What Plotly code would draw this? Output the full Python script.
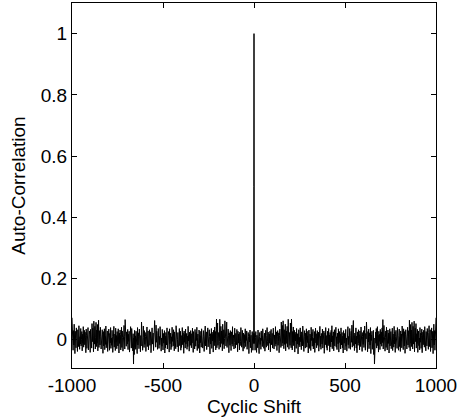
import plotly.graph_objects as go

# Positive lags (the cyclic auto-correlation is symmetric: R(-k) = R(k))
pos_lags = [0, 1] + list(range(2, 1001, 2))

peak_values = [1.0, 0.5]

noise_values = [
    -0.012, 0.021, -0.034, 0.008, 0.027, -0.019, -0.041, 0.015, 0.003, -0.026, 0.032, -0.007, 0.018, -0.045, 0.011, 0.024, -0.015, 0.006, -0.031, 0.029, -0.002, 0.013, -0.022, 0.036, -0.010,
    0.017, -0.028, 0.004, 0.022, -0.037, 0.009, 0.031, -0.013, -0.024, 0.014, 0.040, -0.006, -0.019, 0.025, -0.033, 0.002, 0.019, -0.011, 0.028, -0.039, 0.007, 0.034, -0.016, -0.004, 0.021,
    -0.027, 0.012, 0.038, -0.009, -0.030, 0.016, 0.005, -0.021, 0.043, -0.014, 0.001, 0.026, -0.035, 0.010, 0.030, -0.018, -0.006, 0.023, -0.042, 0.015, 0.035, -0.008, 0.019, -0.025, 0.058,
    0.012, -0.020, 0.047, -0.011, 0.062, 0.004, -0.029, 0.033, -0.015, 0.021, 0.051, -0.036, 0.008, 0.029, -0.012, 0.044, -0.024, 0.016, 0.067, -0.005, -0.031, 0.024, 0.009, -0.018, 0.055,
    0.003, -0.026, 0.068, 0.014, -0.033, 0.027, -0.008, 0.042, -0.019, 0.006, 0.031, -0.040, 0.018, -0.003, 0.025, -0.028, 0.037, 0.002, -0.014, 0.020, -0.046, 0.011, 0.033, -0.017, 0.008,
    -0.023, 0.039, -0.006, 0.015, -0.032, 0.026, 0.004, -0.020, 0.045, -0.011, 0.019, -0.038, 0.010, 0.030, -0.015, -0.027, 0.022, 0.001, 0.036, -0.024, 0.013, -0.009, 0.028, -0.043, 0.017,
    0.032, -0.013, -0.028, 0.019, 0.007, -0.035, 0.041, -0.002, 0.024, -0.021, 0.011, 0.034, -0.030, 0.005, -0.017, 0.027, -0.041, 0.014, 0.038, -0.010, 0.020, -0.026, 0.003, 0.030, -0.018,
    0.009, 0.025, -0.037, 0.016, -0.004, 0.044, -0.022, 0.012, -0.031, 0.021, 0.006, -0.014, 0.035, -0.027, 0.018, -0.008, 0.029, -0.044, 0.010, 0.023, -0.016, 0.040, -0.003, -0.025, 0.014,
    -0.034, 0.028, 0.008, -0.019, 0.037, -0.012, 0.016, -0.039, 0.024, 0.002, -0.023, 0.031, -0.007, 0.046, -0.029, 0.013, -0.015, 0.026, -0.036, 0.007, 0.033, -0.020, 0.018, -0.005, 0.041,
    -0.024, 0.010, -0.032, 0.022, 0.004, -0.013, 0.036, -0.040, 0.015, 0.027, -0.009, 0.019, -0.030, 0.039, -0.017, 0.003, 0.024, -0.026, 0.012, -0.043, 0.030, 0.008, -0.011, 0.021, -0.033,
    0.017, 0.034, -0.021, 0.006, -0.037, 0.025, -0.003, 0.043, -0.016, 0.011, -0.028, 0.020, 0.037, -0.012, -0.031, 0.015, 0.028, -0.008, 0.048, -0.024, 0.009, 0.031, 0.063, -0.019, 0.014,
    -0.035, 0.022, 0.005, -0.014, 0.039, -0.027, 0.012, -0.042, 0.026, 0.001, -0.018, 0.033, -0.010, 0.017, -0.033, 0.029, 0.007, -0.022, 0.042, -0.006, 0.019, -0.038, 0.011, 0.024, -0.015,
    0.030, -0.025, 0.008, 0.045, -0.012, -0.034, 0.021, 0.003, 0.058, -0.020, 0.014, -0.039, 0.027, -0.007, 0.035, -0.029, 0.010, 0.023, -0.017, 0.040, -0.045, 0.016, -0.002, 0.028, -0.031,
    0.013, -0.024, 0.031, -0.048, 0.006, -0.079, 0.020, -0.036, 0.025, -0.011, 0.037, -0.027, 0.009, 0.043, -0.019, 0.015, -0.040, 0.028, -0.005, 0.018, -0.032, 0.034, -0.014, 0.004, 0.026,
    -0.021, 0.039, -0.009, 0.066, -0.030, 0.012, 0.047, -0.016, 0.024, -0.037, 0.008, 0.029, -0.025, 0.041, -0.004, -0.033, 0.017, 0.032, -0.012, 0.022, -0.043, 0.011, 0.036, -0.020, 0.005,
    0.027, -0.029, 0.014, -0.007, 0.038, -0.035, 0.019, 0.002, -0.024, 0.044, -0.013, 0.026, -0.041, 0.010, 0.031, -0.018, 0.006, -0.028, 0.040, -0.010, 0.021, -0.034, 0.015, 0.035, -0.022,
    0.008, -0.038, 0.029, -0.003, 0.019, -0.026, 0.045, -0.015, 0.011, -0.032, 0.036, 0.004, -0.020, 0.027, -0.044, 0.016, 0.033, -0.009, 0.023, -0.030, 0.012, 0.041, -0.017, 0.002, 0.030,
    -0.025, 0.064, 0.018, -0.036, 0.050, -0.011, 0.032, -0.022, 0.057, 0.007, -0.030, 0.044, -0.014, 0.026, 0.061, -0.039, 0.015, 0.038, -0.006, 0.053, -0.027, 0.020, -0.012, 0.034, -0.041,
    0.017, 0.029, -0.019, 0.006, -0.033, 0.040, -0.008, 0.022, -0.028, 0.013, 0.035, -0.042, 0.009, 0.025, -0.016, 0.031, -0.003, -0.024, 0.043, -0.011, 0.018, -0.036, 0.027, 0.001, -0.020,
    0.037, -0.014, 0.010, -0.031, 0.024, 0.046, -0.022, 0.005, 0.033, -0.038, 0.016, -0.007, 0.039, -0.026, 0.012, 0.028, -0.045, 0.020, 0.051, -0.017, 0.030, -0.034, 0.009, 0.042, 0.072,
]

pos_values = peak_values + noise_values

x_ticks = [-1000, -500, 0, 500, 1000]
x_ticklabels = ["-1000", "-500", "0", "500", "1000"]
y_ticks = [0, 0.2, 0.4, 0.6, 0.8, 1]
y_ticklabels = ["0", "0.2", "0.4", "0.6", "0.8", "1"]

# full symmetric series
shift = [-k for k in reversed(pos_lags)] + pos_lags[1:]
corr = list(reversed(pos_values)) + pos_values[1:]

FONT = "Liberation Sans, Arial, sans-serif"
FS = 19

fig = go.Figure()
fig.add_trace(go.Scatter(
    x=shift, y=corr, mode="lines",
    line=dict(color="black", width=1),
    showlegend=False, hoverinfo="skip",
))

axis_common = dict(
    showline=True, linecolor="black", linewidth=1, mirror="ticks",
    ticks="inside", ticklen=5, tickwidth=1, tickcolor="black",
    showgrid=False, zeroline=False, automargin=False,
    tickfont=dict(family=FONT, size=FS, color="black"),
)

fig.update_layout(
    width=459, height=419,
    margin=dict(l=72, r=23, t=3, b=51),
    paper_bgcolor="white", plot_bgcolor="white",
    font=dict(family=FONT, size=FS, color="black"),
    xaxis=dict(
        range=[-1000, 1000], tickvals=x_ticks, ticktext=x_ticklabels,
        title=dict(text="Cyclic Shift", font=dict(family=FONT, size=FS), standoff=0),
        **axis_common,
    ),
    yaxis=dict(
        range=[-0.092, 1.1], tickvals=y_ticks, ticktext=y_ticklabels,
        title=dict(text="Auto-Correlation", font=dict(family=FONT, size=FS), standoff=10),
        **axis_common,
    ),
)

fig.write_html(
    "out.html",
    config={"displayModeBar": False},
    post_script="document.body.style.margin='0';document.body.style.overflow='hidden';",
)
